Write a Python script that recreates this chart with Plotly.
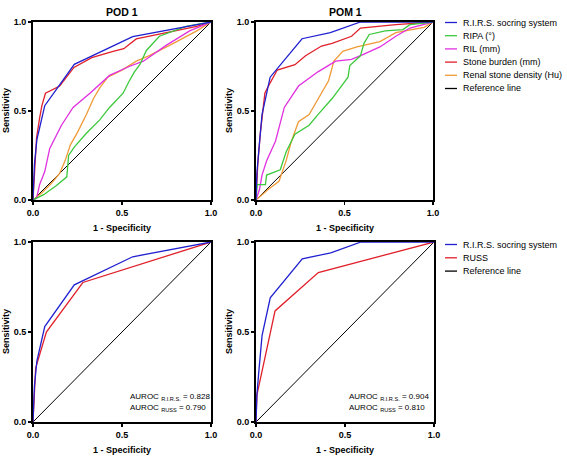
import plotly.graph_objects as go

W, H = 567, 457
FONT = "Liberation Sans, Arial, sans-serif"

# ---------------- data ----------------
series_names_top = ["R.I.R.S. socring system", "RIPA (°)", "RIL (mm)",
                    "Stone burden (mm)", "Renal stone density (Hu)", "Reference line"]
series_names_bottom = ["R.I.R.S. socring system", "RUSS", "Reference line"]
panel_titles = ["POD 1", "POM 1"]
tick_vals = [0, 0.5, 1.0]
tick_labels = ["0.0", "0.5", "1.0"]
ref_x = [0, 1]
ref_y = [0, 1]

# POD 1
pod_rirs_x = [0, 0.008, 0.022, 0.066, 0.232, 0.56, 1]
pod_rirs_y = [0, 0.2, 0.34, 0.53, 0.762, 0.918, 1]
pod_ripa_x = [0, 0.06, 0.13, 0.17, 0.19, 0.2, 0.234, 0.3, 0.375, 0.43, 0.506, 0.54, 0.57, 0.6, 0.637, 0.71, 0.8, 0.86, 1]
pod_ripa_y = [0, 0.03, 0.08, 0.11, 0.13, 0.25, 0.30, 0.375, 0.45, 0.52, 0.60, 0.667, 0.72, 0.76, 0.84, 0.92, 0.955, 0.975, 1]
pod_ril_x = [0, 0.02, 0.037, 0.066, 0.094, 0.13, 0.16, 0.225, 0.32, 0.43, 0.54, 0.62, 0.75, 0.88, 1]
pod_ril_y = [0, 0.01, 0.086, 0.16, 0.29, 0.36, 0.42, 0.52, 0.60, 0.70, 0.75, 0.78, 0.87, 0.95, 1]
pod_stone_x = [0, 0.008, 0.02, 0.037, 0.05, 0.07, 0.11, 0.15, 0.23, 0.33, 0.45, 0.51, 0.58, 0.75, 0.92, 1]
pod_stone_y = [0, 0.15, 0.35, 0.46, 0.53, 0.60, 0.62, 0.64, 0.745, 0.80, 0.835, 0.85, 0.905, 0.94, 0.975, 1]
pod_density_x = [0, 0.05, 0.10, 0.15, 0.18, 0.21, 0.25, 0.30, 0.34, 0.375, 0.42, 0.50, 0.58, 0.65, 0.77, 0.92, 1]
pod_density_y = [0, 0.04, 0.09, 0.15, 0.22, 0.31, 0.38, 0.48, 0.57, 0.63, 0.69, 0.73, 0.78, 0.81, 0.87, 0.95, 1]
pod_russ_x = [0, 0.015, 0.075, 0.28, 1]
pod_russ_y = [0, 0.3, 0.50, 0.775, 1]

# POM 1
pom_rirs_x = [0, 0.005, 0.015, 0.034, 0.08, 0.26, 0.42, 0.59, 1]
pom_rirs_y = [0, 0.15, 0.27, 0.48, 0.69, 0.906, 0.94, 1.0, 1]
pom_ripa_x = [0, 0.006, 0.053, 0.06, 0.137, 0.17, 0.22, 0.30, 0.35, 0.43, 0.49, 0.52, 0.53, 0.59, 0.61, 0.64, 0.73, 0.83, 0.87, 1]
pom_ripa_y = [0, 0.086, 0.086, 0.14, 0.17, 0.27, 0.37, 0.42, 0.48, 0.57, 0.65, 0.69, 0.755, 0.81, 0.88, 0.93, 0.95, 0.957, 0.985, 1]
pom_ril_x = [0, 0.02, 0.034, 0.06, 0.11, 0.16, 0.24, 0.35, 0.45, 0.54, 0.61, 0.70, 0.79, 0.87, 1]
pom_ril_y = [0, 0.06, 0.14, 0.22, 0.33, 0.52, 0.64, 0.72, 0.78, 0.79, 0.82, 0.86, 0.92, 0.966, 1]
pom_stone_x = [0, 0.01, 0.024, 0.05, 0.07, 0.12, 0.22, 0.28, 0.37, 0.43, 0.54, 0.59, 0.79, 1]
pom_stone_y = [0, 0.2, 0.37, 0.60, 0.64, 0.73, 0.76, 0.81, 0.865, 0.88, 0.92, 0.966, 0.985, 1]
pom_density_x = [0, 0.07, 0.13, 0.17, 0.20, 0.24, 0.30, 0.35, 0.41, 0.44, 0.49, 0.57, 0.70, 0.79, 0.95, 1]
pom_density_y = [0, 0.06, 0.105, 0.22, 0.33, 0.44, 0.48, 0.57, 0.67, 0.78, 0.835, 0.86, 0.89, 0.94, 0.97, 1]
pom_russ_x = [0, 0.005, 0.107, 0.35, 1]
pom_russ_y = [0, 0.15, 0.617, 0.83, 1]

auroc_pod = ["AUROC <sub>R.I.R.S.</sub> = 0.828", "AUROC <sub>RUSS</sub> = 0.790"]
auroc_pom = ["AUROC <sub>R.I.R.S.</sub> = 0.904", "AUROC <sub>RUSS</sub> = 0.810"]

# ---------------- styles ----------------
C_BLUE = "#2020d0"
C_GREEN = "#3cc83c"
C_MAG = "#e030e0"
C_RED = "#e0202a"
C_ORANGE = "#f09a38"
C_BLACK = "#000000"
top_colors = [C_BLUE, C_GREEN, C_MAG, C_RED, C_ORANGE, C_BLACK]
bottom_colors = [C_BLUE, C_RED, C_BLACK]


def px_x(p):
    return p / W


def px_y(p):
    return 1 - p / H


fig = go.Figure()

panels = {
    "1": ((33, 211), (22, 200)),
    "2": ((256, 433), (22, 200)),
    "3": ((33, 211), (242, 422)),
    "4": ((256, 434), (242, 422)),
}

top_data = {
    "1": [(pod_rirs_x, pod_rirs_y), (pod_ripa_x, pod_ripa_y), (pod_ril_x, pod_ril_y),
          (pod_stone_x, pod_stone_y), (pod_density_x, pod_density_y), (ref_x, ref_y)],
    "2": [(pom_rirs_x, pom_rirs_y), (pom_ripa_x, pom_ripa_y), (pom_ril_x, pom_ril_y),
          (pom_stone_x, pom_stone_y), (pom_density_x, pom_density_y), (ref_x, ref_y)],
}
bottom_data = {
    "3": [(pod_rirs_x, pod_rirs_y), (pod_russ_x, pod_russ_y), (ref_x, ref_y)],
    "4": [(pom_rirs_x, pom_rirs_y), (pom_russ_x, pom_russ_y), (ref_x, ref_y)],
}


def axref(k):
    return ("x" if k == "1" else "x" + k), ("y" if k == "1" else "y" + k)


def add_series(k, data, names, colors):
    xr, yr = axref(k)
    order = [len(data) - 1] + list(range(len(data) - 2, -1, -1))
    for i in order:
        x, y = data[i]
        fig.add_trace(go.Scatter(
            x=x, y=y, mode="lines", name=names[i], xaxis=xr, yaxis=yr,
            line=dict(color=colors[i], width=1.0 if i == len(data) - 1 else 1.3),
            showlegend=False, hoverinfo="skip"))


for k, d in top_data.items():
    add_series(k, d, series_names_top, top_colors)
for k, d in bottom_data.items():
    add_series(k, d, series_names_bottom, bottom_colors)

axis_common = dict(
    range=[0, 1], showgrid=False, zeroline=False, showline=True, automargin=False,
    linecolor="black", linewidth=2, mirror=True,
    ticks="outside", ticklen=3, tickwidth=1.5, tickcolor="black",
    tickvals=tick_vals, ticktext=tick_labels, fixedrange=True,
    tickfont=dict(family=FONT, size=9, color="black", weight="bold"),
)

layout_axes = {}
for k, ((x0, x1), (y0, y1)) in panels.items():
    xr, yr = axref(k)
    xname = "xaxis" if k == "1" else "xaxis" + k
    yname = "yaxis" if k == "1" else "yaxis" + k
    layout_axes[xname] = dict(axis_common, domain=[px_x(x0), px_x(x1)], anchor=yr)
    layout_axes[yname] = dict(axis_common, domain=[px_y(y1), px_y(y0)], anchor=xr)

annotations = []
shapes = []

for title, cx in zip(panel_titles, [122, 345]):
    annotations.append(dict(text=title, x=px_x(cx), y=px_y(12), xref="paper", yref="paper",
                            showarrow=False, xanchor="center", yanchor="middle",
                            font=dict(family=FONT, size=10.5, color="black", weight="bold")))

for k, ((x0, x1), (y0, y1)) in panels.items():
    annotations.append(dict(text="1 - Specificity", x=px_x((x0 + x1) / 2), y=px_y(y1 + 28),
                            xref="paper", yref="paper", showarrow=False,
                            xanchor="center", yanchor="middle",
                            font=dict(family=FONT, size=9, color="black", weight="bold")))
    annotations.append(dict(text="Sensitivity", x=px_x(x0 - 27), y=px_y((y0 + y1) / 2),
                            xref="paper", yref="paper", showarrow=False, textangle=-90,
                            xanchor="center", yanchor="middle",
                            font=dict(family=FONT, size=9, color="black", weight="bold")))

for texts, lx in [(auroc_pod, 128), (auroc_pom, 347)]:
    for t, ly in zip(texts, [396.5, 407.5]):
        annotations.append(dict(text=t, x=px_x(lx), y=px_y(ly), xref="paper", yref="paper",
                                showarrow=False, xanchor="left", yanchor="middle",
                                font=dict(family=FONT, size=8, color="black")))


def add_legend(names, colors, y_start, step):
    for i, (n, c) in enumerate(zip(names, colors)):
        yy = y_start + step * i
        shapes.append(dict(type="line", xref="paper", yref="paper",
                           x0=px_x(445), x1=px_x(457), y0=px_y(yy), y1=px_y(yy),
                           line=dict(color=c, width=1.3)))
        annotations.append(dict(text=n, x=px_x(461), y=px_y(yy), xref="paper", yref="paper",
                                showarrow=False, xanchor="left", yanchor="middle",
                                font=dict(family=FONT, size=9, color="black")))


add_legend(series_names_top, top_colors, 22.5, 13.2)
add_legend(series_names_bottom, bottom_colors, 244.5, 13.3)

fig.update_layout(
    template="none",
    width=W, height=H,
    margin=dict(l=0, r=0, t=0, b=0, pad=0),
    paper_bgcolor="white", plot_bgcolor="white",
    showlegend=False,
    annotations=annotations, shapes=shapes,
    **layout_axes,
)

fig.write_html("out.html",
               config={"displayModeBar": False, "staticPlot": True},
               post_script="document.body.style.margin='0';document.body.style.overflow='hidden';")
